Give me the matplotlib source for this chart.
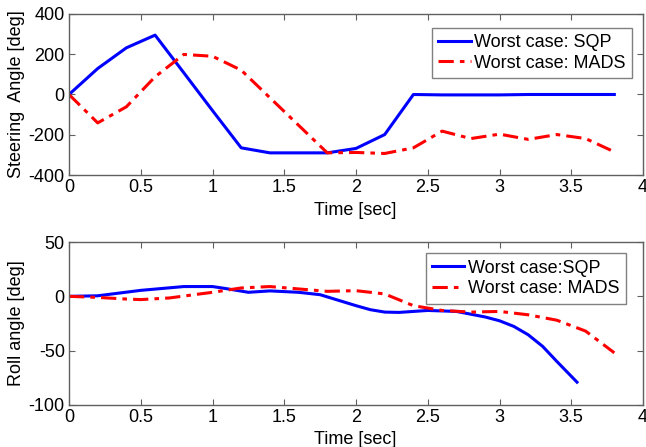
import matplotlib
matplotlib.use("Agg")
import matplotlib.pyplot as plt

plt.rcParams['font.family'] = ['Liberation Sans', 'DejaVu Sans']
plt.rcParams['axes.unicode_minus'] = False

# ---- steering angle (top) ----
t_steer = [0, 0.2, 0.4, 0.6, 0.8, 1.0, 1.2, 1.4, 1.6, 1.8, 2.0, 2.2, 2.4, 2.6, 2.8, 3.0, 3.2, 3.4, 3.6, 3.8]
steer_sqp = [0, 129, 232, 295, 108, -80, -265, -290, -290, -290, -268, -199, 0, -2, -2, -2, 0, 0, 0, 0]
steer_mads = [0, -141, -61, 88, 199, 190, 121, -16, -153, -290, -288, -293, -265, -182, -219, -197, -223, -199, -219, -285]

# ---- roll angle (bottom) ----
t_roll_sqp = [0, 0.2, 0.5, 0.8, 1.0, 1.1, 1.25, 1.4, 1.6, 1.75, 2.0, 2.1, 2.2, 2.3, 2.5, 2.7, 2.9, 3.0, 3.1, 3.2, 3.3, 3.4, 3.54]
roll_sqp = [0, 0.5, 5.5, 9, 9, 7, 3.7, 5, 3.7, 1.5, -8.6, -12.3, -14.5, -14.8, -13, -13.9, -19, -22.5, -27.7, -35.4, -46, -60, -79]
t_roll_mads = [0, 0.2, 0.4, 0.5, 0.7, 0.9, 1.0, 1.2, 1.4, 1.6, 1.8, 2.0, 2.2, 2.4, 2.6, 2.8, 3.0, 3.2, 3.4, 3.6, 3.8]
roll_mads = [0, -1, -2.5, -3, -1.5, 2, 3.7, 7.7, 9, 6.8, 4.6, 5.2, 2.2, -8.6, -13, -14.5, -13.9, -17, -22, -32, -52]

xticks = [0, 0.5, 1, 1.5, 2, 2.5, 3, 3.5, 4]
xticklabels = ['0', '0.5', '1', '1.5', '2', '2.5', '3', '3.5', '4']

dashdot = (0, (5, 2, 1.5, 2))
frame_col = '#606060'

fig = plt.figure(figsize=(6.46, 4.47), dpi=100)
ax1 = fig.add_axes([0.1068, 0.6085, 0.8886, 0.3602])
ax2 = fig.add_axes([0.1068, 0.094, 0.8886, 0.3646])


def style(ax):
    for s in ax.spines.values():
        s.set_color(frame_col)
        s.set_linewidth(1.0)
    ax.tick_params(direction='in', top=True, right=True, length=4, color=frame_col,
                   labelsize=13, labelcolor='black', pad=3)
    ax.set_xlim(0, 4)
    ax.set_xticks(xticks)
    ax.set_xticklabels(xticklabels)
    ax.set_xlabel('Time [sec]', fontsize=13)


# top
ax1.plot(t_steer, steer_sqp, color='#0000ff', lw=2.2, label='Worst case: SQP')
ax1.plot(t_steer, steer_mads, color='#ff0000', lw=2.2, linestyle=dashdot, label='Worst case: MADS')
ax1.set_ylim(-400, 400)
ax1.set_yticks([-400, -200, 0, 200, 400])
style(ax1)
ax1.set_ylabel('Steering  Angle [deg]', fontsize=13)
ax1.yaxis.set_label_coords(-0.076, 0.5)
ax1.xaxis.set_label_coords(0.498, -0.165)
leg1 = ax1.legend(loc='upper right', bbox_to_anchor=(0.981, 0.915), fontsize=13,
                  fancybox=False, edgecolor=frame_col, handlelength=1.8,
                  handletextpad=0.2, borderpad=0.35, labelspacing=0.2, borderaxespad=0)
leg1.get_frame().set_linewidth(1.0)

# bottom
ax2.plot(t_roll_sqp, roll_sqp, color='#0000ff', lw=2.2, label='Worst case:SQP')
ax2.plot(t_roll_mads, roll_mads, color='#ff0000', lw=2.2, linestyle=dashdot, label='Worst case: MADS')
ax2.set_ylim(-100, 50)
ax2.set_yticks([-100, -50, 0, 50])
style(ax2)
ax2.set_ylabel('Roll angle [deg]', fontsize=13)
ax2.yaxis.set_label_coords(-0.076, 0.5)
ax2.xaxis.set_label_coords(0.498, -0.16)
leg2 = ax2.legend(loc='upper right', bbox_to_anchor=(0.970, 0.93), fontsize=13,
                  fancybox=False, edgecolor=frame_col, handlelength=1.8,
                  handletextpad=0.2, borderpad=0.35, labelspacing=0.2, borderaxespad=0)
leg2.get_frame().set_linewidth(1.0)

fig.savefig('out.png', dpi=100)
